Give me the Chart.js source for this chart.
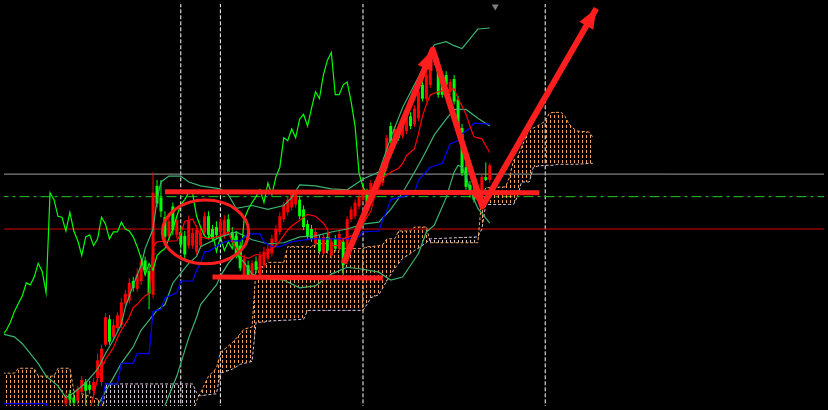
<!DOCTYPE html>
<html>
<head>
<meta charset="utf-8">
<style>
html,body{margin:0;padding:0;background:#000;}
canvas{display:block;background:#000;}
</style>
<script src="https://cdn.jsdelivr.net/npm/chart.js@4.4.1/dist/chart.umd.min.js"></script>
</head>
<body>
<canvas id="chart" width="828" height="410"></canvas>
<script>
// x = bar number in the visible window, y = price in points
const firstCandle = 15

const opens = [
    2, 12, 8, 5, 14, 24, 21, 15, 28, 24,
    62, 88, 70, 79, 82, 104, 107, 127, 119, 127,
    148, 137, 113, 224, 212, 192, 173, 203, 174, 177,
    173, 163, 163, 157, 163, 177, 193, 180, 182, 177,
    173, 190, 177, 173, 163, 133, 143, 133, 147, 133,
    143, 150, 155, 167, 177, 190, 197, 202, 205, 210,
    200, 185, 180, 165, 170, 155, 172, 153, 170, 160,
    167, 147, 190, 193, 203, 210, 217, 217, 225, 223,
    227, 242, 285, 270, 280, 275, 280, 295, 287, 293,
    327, 313, 327, 350, 350, 335, 337, 320, 333, 312,
    283, 243, 225, 220, 212, 217, 233, 230
]
const highs = [
    13, 16, 14, 20, 30, 27, 25, 28, 53, 62,
    94, 92, 88, 95, 110, 118, 130, 131, 140, 154,
    152, 142, 238, 230, 230, 198, 195, 207, 194, 182,
    178, 194, 181, 184, 181, 197, 198, 184, 188, 191,
    194, 195, 182, 178, 167, 154, 148, 148, 152, 157,
    162, 164, 174, 184, 197, 208, 213, 220, 220, 214,
    204, 189, 184, 181, 174, 175, 176, 170, 174, 178,
    171, 193, 203, 210, 216, 223, 221, 230, 229, 236,
    246, 276, 289, 285, 283, 295, 300, 299, 306, 323,
    331, 340, 355, 365, 354, 339, 341, 333, 337, 316,
    287, 247, 229, 224, 222, 236, 248, 247
]
const lows = [
    -2, 0, -2, 1, 11, 0, 12, 11, 24, 20,
    60, 62, 66, 76, 79, 101, 104, 116, 116, 123,
    133, 98, 109, 202, 192, 167, 169, 174, 170, 160,
    150, 160, 160, 154, 160, 174, 170, 167, 170, 174,
    170, 174, 164, 150, 137, 130, 130, 129, 135, 130,
    140, 147, 152, 164, 174, 187, 194, 199, 202, 190,
    179, 170, 167, 162, 154, 152, 155, 150, 157, 157,
    133, 144, 187, 190, 200, 207, 204, 214, 212, 220,
    224, 239, 267, 267, 270, 272, 277, 282, 284, 290,
    310, 310, 324, 347, 314, 314, 324, 317, 307, 282,
    234, 220, 212, 207, 210, 214, 229, 227
]
const closes = [
    10, 6, 3, 17, 26, 15, 16, 24, 46, 58,
    90, 65, 82, 92, 105, 114, 125, 120, 134, 147,
    138, 114, 217, 206, 198, 172, 188, 179, 189, 164,
    154, 189, 176, 179, 176, 193, 174, 170, 174, 187,
    189, 177, 167, 153, 140, 150, 133, 145, 138, 153,
    157, 160, 170, 180, 193, 205, 210, 217, 216, 193,
    182, 173, 170, 177, 157, 172, 158, 167, 160, 175,
    143, 190, 200, 207, 213, 220, 207, 227, 215, 233,
    243, 273, 270, 282, 273, 292, 297, 285, 303, 320,
    313, 337, 352, 360, 317, 317, 327, 330, 310, 285,
    237, 223, 215, 210, 220, 233, 230, 245
]

// ichimoku
const tenkan = [[21,-5],[22,10],[23,28],[24,37],[25,47],[26,53],[27,59],[28,69],[29,77],[30,83],[31,90],[32,100],[33,103],[34,108],[35,112],[36,114],[37,162],[38,167],[43,168],[44,175],[45,188],[47,190],[48,182],[49,172],[51,170],[54,173],[56,177],[57,168],[58,160],[59,153],[61,150],[63,154],[65,153],[67,160],[68,163],[69,168],[71,179],[72,183],[74,189],[76,195],[78,193],[80,186],[81,180],[82,163],[84,163],[85,170],[87,173],[89,179],[91,192],[92,198],[93,215],[94,223],[95,232],[97,238],[99,242],[100,247],[101,255],[103,262],[104,277],[105,295],[106,307],[107,317],[109,320],[111,322],[113,323],[114,313],[116,297],[117,285],[118,274],[120,272],[121,265],[122,258]]
const kijun = [[-1,2],[10,2],[11,-8],[23,-8],[24,2],[25,22],[28,22],[29,43],[32,43],[33,53],[36,53],[37,96],[38,97],[39,98],[40,110],[43,115],[44,127],[47,127],[48,138],[49,145],[50,157],[51,157],[54,165],[56,168],[59,168],[61,175],[64,175],[65,167],[67,162],[69,162],[72,167],[77,170],[86,170],[89,172],[90,177],[94,178],[95,190],[96,198],[97,210],[100,213],[103,217],[104,230],[107,243],[110,247],[112,267],[114,270],[115,277],[117,283],[118,288],[122,287]]
const chikouStart = -1
const chikou = [
    72, 77, 85, 96, 104, 112, 125, 123, 131, 145,
    137, 115, 217, 210, 193, 192, 178, 197, 178, 168,
    153, 172, 174, 163, 170, 192, 185, 170, 177, 177,
    187, 180, 178, 172, 162, 150,
    133, 145, 138, 153, 157, 160, 170, 180, 193, 205,
    210, 217, 216, 193, 182, 173, 170, 177, 157, 172,
    158, 167, 160, 175, 143, 190, 200, 207, 213, 220,
    207, 227, 215, 233, 243, 273, 270, 282, 273, 292,
    297, 285, 303, 320, 313, 337, 352, 360, 317, 317,
    327, 330, 310, 285, 237, 223, 215, 210, 220, 233,
    230, 245
]
const cloudBars = [-1,2,3,7,8,12,13,16,17,24, 25,47,48,49,51,53,54,57,59,60, 62,63,65,66,70,71,75,76,77,78, 83,84,90,91,92,94,95,96,98,99, 100,102,103,106,107,119,120,121,126,127, 128,129,130,131,132,133,134,136,137,138, 139,140,141,142,143,144,147,148]
const spanA = [33,33,38,38,30,30,38,38,15,5, -8,-8,5,13,30,38,54,64,73,78, 80,140,142,146,146,162,162,162,162,165, 165,160,160,162,162,163,164,170,170,178, 178,178,182,182,166,166,213,222,223,233, 250,253,263,273,282,283,285,290,298,299, 299,299,295,287,283,280,279,274]
const spanB = [-20,-20,-20,-20,-20,-20,-20,-20,-20,-20, 22,22,13,10,11,12,33,37,42,43, 45,85,85,86,87,87,88,97,97,97, 97,97,97,103,110,113,120,127,140,145, 150,155,158,166,170,172,180,205,205,205, 205,213,228,228,228,243,244,245,245,245, 246,246,246,246,246,246,247,247]

// bollinger 20
const bbUpper = [[-1,73],[2,70],[4,63],[8,43],[10,30],[13,20],[15,8],[17,13],[20,23],[23,37],[25,53],[27,67],[29,83],[30,100],[32,123],[34,143],[35,160],[37,180],[38,210],[39,228],[41,234],[44,234],[46,228],[49,224],[54,221],[56,215],[58,201],[62,204],[66,200],[70,204],[72,212],[74,225],[78,224],[82,221],[86,220],[90,231],[94,238],[97,273],[100,304],[104,335],[108,368],[111,371],[113,367],[115,364],[116,369],[119,384],[122,385]]
const bbMiddle = [[23,0],[29,43],[32,60],[34,77],[38,97],[40,103],[42,125],[46,145],[48,152],[49,162],[54,172],[58,177],[62,169],[66,165],[70,166],[74,172],[78,173],[82,177],[86,180],[90,185],[94,187],[97,200],[100,217],[104,245],[106,260],[108,276],[111,292],[113,302],[116,302],[119,293],[122,285]]
const bbLower = [[40,0],[43,30],[44,43],[46,69],[48,90],[49,103],[51,113],[53,123],[54,132],[56,145],[58,154],[60,146],[62,134],[66,129],[70,128],[74,120],[78,122],[82,134],[86,141],[90,139],[94,136],[97,128],[100,131],[104,155],[106,177],[108,184],[111,212],[113,238],[114,245],[115,243],[116,234],[117,220],[119,201],[122,186]]

// chart objects
const separatorBars = [44, 54, 90, 136]
const levelGray = 236
const levelGreen = 213
const levelRed = 180
const markerTop = [[123.4, 407]]

// hand drawn markup
const resistance = [[40,218],[134.5,217]]
const support = [[52,131],[95,130]]
const zigzag = [[85.1,145],[107.6,363],[120.1,203],[148.9,405]]
const ring = {center: [50.25, 177], halfBars: 10.9, halfPts: 32.5}

const cvs = document.getElementById('chart')
const g2d = cvs.getContext('2d')

function hatch(color){
    const tile = document.createElement('canvas')
    tile.width = 4
    tile.height = 5
    const g = tile.getContext('2d')
    g.fillStyle = color
    g.fillRect(2, 0, 1, 3)
    return g2d.createPattern(tile, 'repeat')
}

const toPts = arr => arr.map(([x, y]) => ({x, y}))
const markRed = '#ff1e1e'
const candleColor = i => closes[i] >= opens[i] ? '#ff0000' : '#00ff00'

const line = (data, color, extra) => Object.assign({
    type: 'line', data, borderColor: color, borderWidth: 1.2,
    pointRadius: 0, tension: 0, fill: false, order: 1
}, extra)
const hline = (y, color, extra) => line([{x: -2, y}, {x: 210, y}], color, Object.assign({order: 4, borderWidth: 1}, extra))

const datasets = []
const add = ds => datasets.push(ds) - 1

// markup on top
add(line(toPts(zigzag), markRed, {borderWidth: 6, borderJoinStyle: 'round', order: 0}))
add(line(toPts(resistance), markRed, {borderWidth: 5, order: 0}))
add(line(toPts(support), markRed, {borderWidth: 5, order: 0}))
add(line(toPts(markerTop), '#7f7f7f', {showLine: false, pointRadius: 4, pointStyle: 'triangle', rotation: 180, pointBackgroundColor: '#7f7f7f', pointBorderWidth: 0, order: 0}))

// indicators
add(line(toPts(tenkan), '#ff0000'))
add(line(toPts(kijun), '#0000ff'))
add(line(chikou.map((v, k) => ({x: chikouStart + k, y: v})), '#00ff00'))
add(line(toPts(bbUpper), '#3cb371'))
add(line(toPts(bbMiddle), '#3cb371'))
add(line(toPts(bbLower), '#3cb371'))

// candles
add({
    type: 'bar', order: 2, grouped: false, barThickness: 1, borderWidth: 0, inflateAmount: 0,
    data: lows.map((l, k) => ({x: firstCandle + k, y: [l, highs[k]]})),
    backgroundColor: c => candleColor(c.dataIndex)
})
add({
    type: 'bar', order: 2, grouped: false, barThickness: 3, borderWidth: 0, inflateAmount: 0,
    data: opens.map((o, k) => ({x: firstCandle + k, y: [o, closes[k]]})),
    backgroundColor: c => candleColor(c.dataIndex)
})

// kumo
const spanBIndex = add(line(cloudBars.map((x, k) => ({x, y: spanB[k]})), '#d8bfd8', {borderDash: [3, 2], borderWidth: 1, order: 3}))
add(line(cloudBars.map((x, k) => ({x, y: spanA[k]})), '#f4a460', {
    borderDash: [3, 2], borderWidth: 1, order: 3,
    fill: {target: spanBIndex, above: hatch('#f4a460'), below: hatch('#d8bfd8')}
}))

// horizontal levels and period separators
add(hline(levelGray, '#a0a0a0'))
add(hline(levelGreen, '#22cc22', {borderDash: [10, 4, 3, 4]}))
add(hline(levelRed, '#dd0000'))
separatorBars.forEach(b => add(line([{x: b, y: -10}, {x: b, y: 420}], '#ffffff', {borderDash: [4, 2], borderWidth: 1, order: 5})))

const markup = {
    id: 'markup',
    afterDatasetsDraw(chart){
        const {ctx, scales} = chart
        const px = p => [scales.x.getPixelForValue(p[0]), scales.y.getPixelForValue(p[1])]
        ctx.save()
        ctx.strokeStyle = markRed
        ctx.fillStyle = markRed
        const [cx, cy] = px(ring.center)
        const rx = Math.abs(scales.x.getPixelForValue(ring.center[0] + ring.halfBars) - cx)
        const ry = Math.abs(scales.y.getPixelForValue(ring.center[1] + ring.halfPts) - cy)
        ctx.lineWidth = 3
        ctx.beginPath()
        ctx.ellipse(cx, cy, rx, ry, 0, 0, Math.PI * 2)
        ctx.stroke()
        for (const [k, len, half] of [[1, 20, 8], [2, 14, 6], [3, 20, 8]]) {
            const [x0, y0] = px(zigzag[k - 1])
            const [x1, y1] = px(zigzag[k])
            const d = Math.hypot(x1 - x0, y1 - y0)
            const ux = (x1 - x0) / d, uy = (y1 - y0) / d
            const bx = x1 - ux * len, by = y1 - uy * len
            ctx.beginPath()
            ctx.moveTo(x1, y1)
            ctx.lineTo(bx - uy * half, by + ux * half)
            ctx.lineTo(bx + uy * half, by - ux * half)
            ctx.closePath()
            ctx.fill()
        }
        ctx.restore()
    }
}

new Chart(cvs, {
    type: 'line',
    data: {datasets},
    options: {
        responsive: false,
        animation: false,
        events: [],
        layout: {padding: 0},
        plugins: {legend: {display: false}, tooltip: {enabled: false}},
        scales: {
            x: {type: 'linear', min: -0.625, max: 206.375, display: false, offset: false},
            y: {type: 'linear', min: -0.5, max: 409.5, display: false}
        }
    },
    plugins: [markup]
})
</script>
</body>
</html>
